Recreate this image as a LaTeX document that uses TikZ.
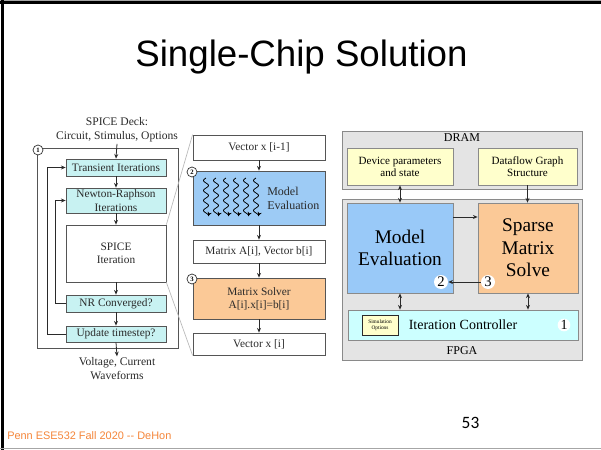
\documentclass[tikz,border=0pt]{standalone}
\usepackage{fontspec}
\setmainfont{Liberation Serif}
\newfontfamily\arialf{Liberation Sans}
\newfontfamily\calibf{Carlito}
\usetikzlibrary{arrows.meta,calc}
\newcommand\myfs[2]{\fontsize{#1}{#2}\selectfont}
\definecolor{lcyan}{HTML}{C8F2F2}
\definecolor{mblue}{HTML}{9DCBF5}
\definecolor{rblue}{HTML}{99C9F8}
\definecolor{orng}{HTML}{FBC997}
\definecolor{ylw}{HTML}{FFFFCC}
\definecolor{gfill}{HTML}{E4E4E4}
\definecolor{gdraw}{HTML}{8A8A8A}
\definecolor{ccyan}{HTML}{CCFFFF}
\definecolor{boxg}{HTML}{555555}
\definecolor{linec}{HTML}{2A2A2A}
\definecolor{footc}{HTML}{F5863A}
\tikzset{
  lbox/.style={draw=boxg, line width=0.6pt, inner sep=0pt, align=center, text=linec, font=\myfs{8.5}{10}},
  arr/.style={-{Stealth[length=3.5pt,width=3pt]}, line width=0.6pt, draw=linec},
  darr/.style={{Stealth[length=3.5pt,width=3pt]}-{Stealth[length=3.5pt,width=3pt]}, line width=0.6pt, draw=linec},
  cnum/.style={circle, draw=linec, line width=0.5pt, fill=white, inner sep=0pt, minimum size=7.5pt, font=\myfs{5}{5}\bfseries},
  rnum/.style={circle, fill=white, inner sep=0pt, minimum size=10.5pt, font=\myfs{11}{11}},
  rbox/.style={draw=gdraw, line width=0.6pt, inner sep=0pt, align=center, font=\myfs{8.3}{9}},
  zoomline/.style={draw=gray!55, line width=0.5pt},
  squig/.style={line width=0.55pt, draw=black, -{Stealth[length=3pt,width=3pt]}}
}
\begin{document}
\begin{tikzpicture}[x=0.75pt,y=-0.75pt]
\useasboundingbox (0,0) rectangle (601,450);
% slide frame
\fill[white] (0,0) rectangle (601,450);
\draw[gray!70, line width=0.75pt] (0,0.4) -- (601,0.4);
\draw[black, line width=2pt] (0,2.6) -- (601,2.6);
\draw[black, line width=2.2pt] (2.4,0) -- (2.4,450);
\draw[gray!70, line width=1.2pt] (0,448.6) -- (601,448.6);
% title
\node[anchor=base, font=\arialf\myfs{27.5}{32}] (title) at (301.5,66) {Single-Chip Solution};
% footer
\node[anchor=base west, inner sep=0pt, text=footc, font=\arialf\myfs{8.2}{10}] (foot) at (7,439) {Penn ESE532 Fall 2020 -\kern0pt- DeHon};
\node[anchor=base, inner sep=0pt, font=\calibf\myfs{13}{15}] (pnum) at (470.5,428) {53};

% ---------- left column ----------
\draw[boxg, line width=0.6pt] (37,148) rectangle (178,348);
\node[cnum] (n1) at (38,150) {1};
\node[align=center, inner sep=1pt, text=linec, font=\myfs{8.7}{10.5}] (deck) at (117,130) {SPICE Deck:\\Circuit, Stimulus, Options};
\node[lbox, fill=lcyan, minimum width=75pt, minimum height=12.75pt] (trans) at (116,167.5) {Transient Iterations};
\node[lbox, fill=lcyan, minimum width=75pt, minimum height=18.75pt] (newt) at (116,200.5) {Newton-Raphson\\Iterations};
\node[lbox, fill=white, minimum width=75pt, minimum height=42.75pt] (spice) at (116,253.5) {SPICE\\Iteration};
\node[lbox, fill=lcyan, minimum width=75pt, minimum height=12.75pt] (nr) at (116,303.5) {NR Converged?};
\node[lbox, fill=lcyan, minimum width=75pt, minimum height=12pt] (upd) at (116,334) {Update timestep?};
\node[align=center, inner sep=1pt, text=linec, font=\myfs{8.7}{10.5}] (outp) at (117,369) {Voltage, Current\\Waveforms};
\draw[arr] (deck.south) -- (trans.north);
\draw[arr] (trans) -- (newt);
\draw[arr] (newt) -- (spice);
\draw[arr] (spice) -- (nr);
\draw[arr] (nr) -- (upd);
\draw[arr] (upd.south) -- (outp.north);
\draw[arr] (nr.west) -- ++(-10,0) |- (newt.west);
\draw[arr] (upd.west) -- ++(-18,0) |- (trans.west);

% ---------- middle column ----------
\node[lbox, fill=white, minimum width=99pt, minimum height=18.75pt] (vprev) at (259,147.5) {Vector x [i-1]};
\node[lbox, fill=mblue, minimum width=99pt, minimum height=40.5pt] (mev) at (259,198) {};
\node[anchor=west, align=left, inner sep=0pt, text=linec, font=\myfs{9}{11}] (mevt) at (267,198.5) {Model\\Evaluation};
\node[lbox, fill=white, minimum width=99pt, minimum height=17.25pt] (mat) at (259,251.5) {Matrix A[i], Vector b[i]};
\node[lbox, fill=orng, minimum width=99pt, minimum height=30.75pt] (solv) at (259,298.5) {Matrix Solver\\A[i].x[i]=b[i]};
\node[lbox, fill=white, minimum width=99pt, minimum height=16.5pt] (vnext) at (259,344) {Vector x [i]};
\node[cnum] (n2) at (192,172) {2};
\node[cnum] (n3) at (192,279) {3};
\draw[arr] (vprev) -- (mev);
\draw[arr] (mev) -- (mat);
\draw[arr] (mat) -- (solv);
\draw[arr] (solv) -- (vnext);
\foreach \X in {206,216,226,236,246,256}{
  \draw[squig] plot[domain=0:38, samples=90, smooth] ({\X-2.5*sin(36*\x)}, {178+\x});
}
\draw[zoomline] (spice.north east) -- (vprev.north west);
\draw[zoomline] (spice.south east) -- (vnext.south west);

% ---------- right block ----------
\node[draw=gdraw, fill=gfill, line width=0.6pt, minimum width=180pt, minimum height=43.5pt, inner sep=0pt] (dram) at (462,160) {};
\node[draw=gdraw, fill=gfill, line width=0.6pt, minimum width=180pt, minimum height=120.75pt, inner sep=0pt] (fpga) at (462,279.5) {};
\node[font=\myfs{9}{10}, inner sep=0pt] (dramt) at (462,137.5) {DRAM};
\node[font=\myfs{9}{10}, inner sep=0pt] (fpgat) at (462,351) {FPGA};
\node[rbox, fill=ylw, minimum width=79.5pt, minimum height=27.75pt] (dev) at (400,166.5) {Device parameters\\and state};
\node[rbox, fill=ylw, minimum width=74.25pt, minimum height=27.75pt] (df) at (527.5,166.5) {Dataflow Graph\\Structure};
\node[rbox, fill=rblue, minimum width=79.5pt, minimum height=67.5pt, font=\myfs{14.5}{16.5}] (me) at (400,248) {Model\\Evaluation};
\node[rbox, fill=orng, minimum width=75pt, minimum height=67.5pt, font=\myfs{14.5}{16.8}] (sp) at (528,248) {Sparse\\Matrix\\Solve};
\node[rbox, fill=ccyan, minimum width=172.5pt, minimum height=22.5pt, font=\myfs{10.5}{12}] (ctrl) at (463,325) {Iteration Controller};
\node[rbox, fill=ylw, draw=linec, minimum width=27pt, minimum height=15pt, font=\myfs{4}{4.8}] (simo) at (380,325) {Simulation\\Options};
\node[rnum] (c2) at (441,282) {2};
\node[rnum] (c3) at (488,282) {3};
\node[rnum, minimum size=9.5pt, font=\myfs{10.5}{10.5}] (c1) at (564,325) {1};
\coordinate (y217) at (0,217);
\draw[arr] (me.east |- y217) -- (sp.west |- y217);
\draw[arr] (c3) -- (c2);
\draw[darr] (dev.south) -- (me.north);
\draw[arr] (df.south) -- (df.south |- sp.north);
\draw[darr] (me.south) -- (me.south |- ctrl.north);
\draw[darr] (sp.south) -- (sp.south |- ctrl.north);
\end{tikzpicture}
\end{document}
